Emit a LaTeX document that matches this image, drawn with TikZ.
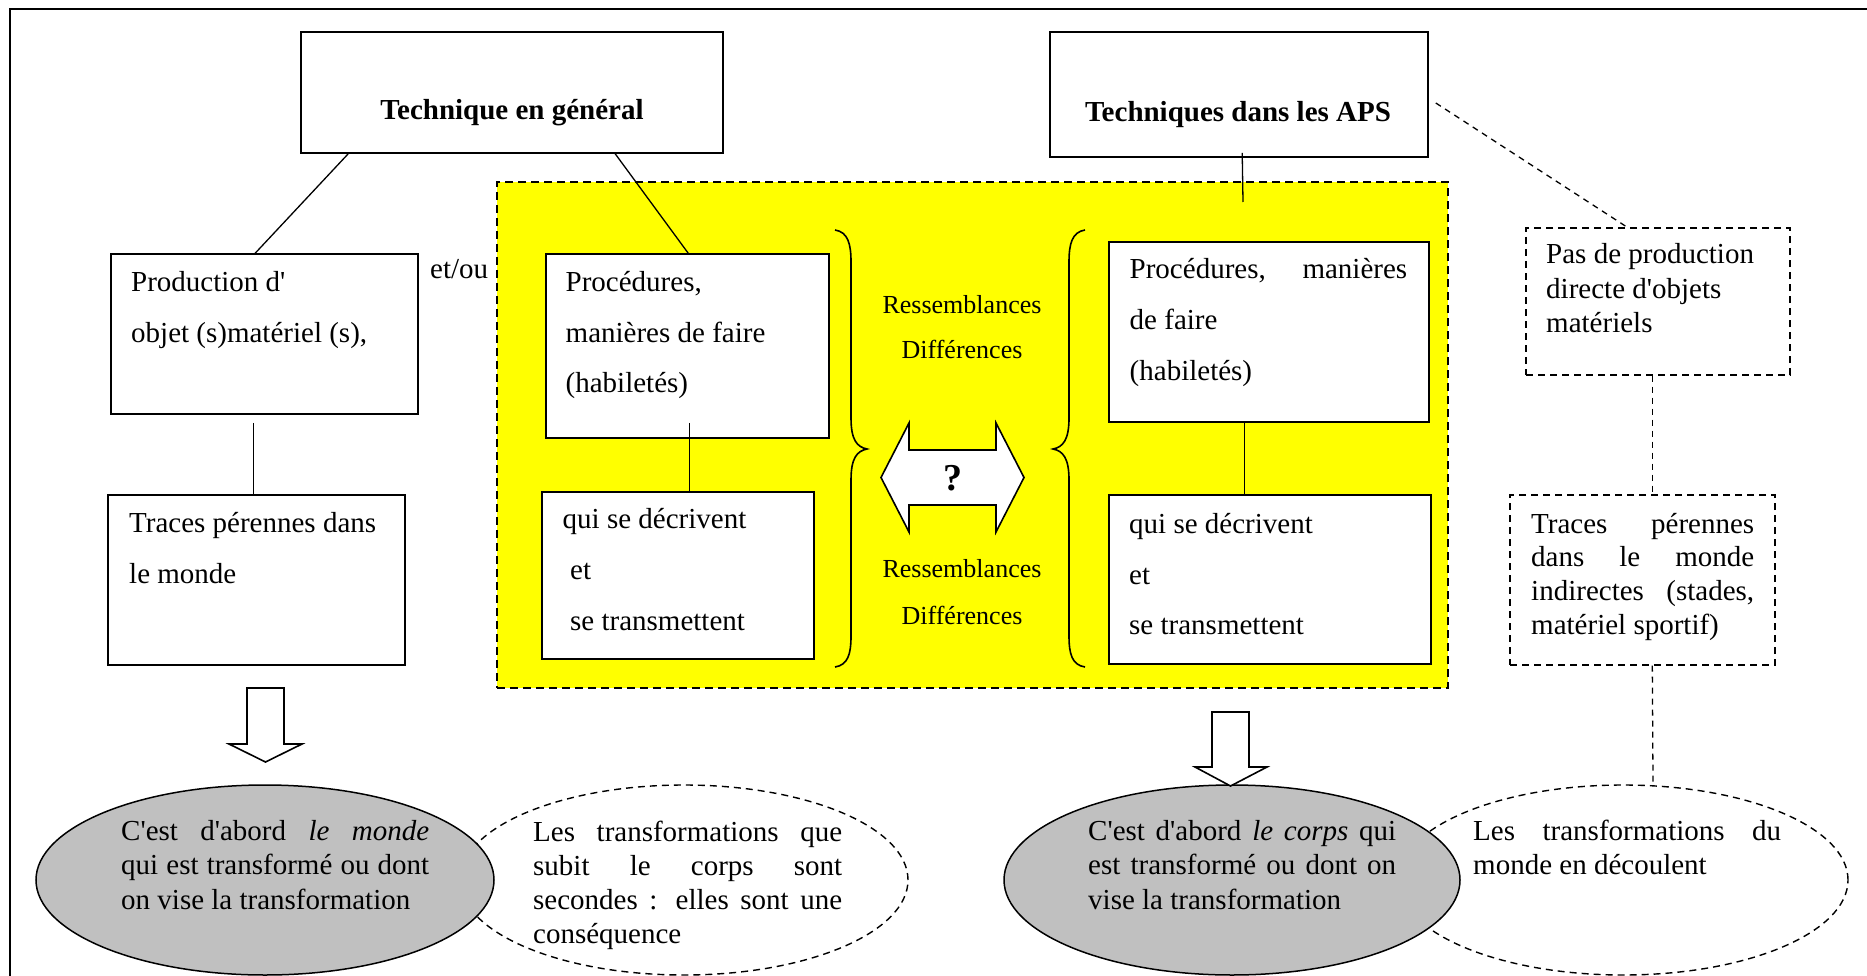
\documentclass[tikz,border=0pt]{standalone}
\usepackage{fontspec}
\setmainfont{Liberation Serif}[Ligatures=TeXOff]
\usetikzlibrary{shapes.geometric}
\definecolor{yel}{RGB}{255,255,0}
\definecolor{ellgray}{RGB}{192,192,192}
\tikzset{
  box/.style={draw, rectangle, line width=1.6pt, fill=white, inner sep=0pt},
  dbox/.style={draw, rectangle, line width=1.4pt, dash pattern=on 7pt off 5pt, fill=white, inner sep=0pt},
  zonebox/.style={draw, rectangle, line width=1.4pt, dash pattern=on 8pt off 5pt, fill=yel, inner sep=0pt},
  grayell/.style={draw, ellipse, line width=1.5pt, fill=ellgray, inner sep=0pt},
  dashell/.style={draw, ellipse, line width=1.4pt, dash pattern=on 7pt off 5pt, fill=white, inner sep=0pt},
  txt/.style={inner sep=0pt, anchor=base west, font=\fontsize{29}{35}\selectfont},
  ctxt/.style={inner sep=0pt, anchor=base, font=\fontsize{26}{31}\selectfont},
  ttl/.style={inner sep=0pt, anchor=base, font=\fontsize{29}{35}\selectfont\bfseries},
  qstyle/.style={inner sep=0pt, anchor=base, font=\fontsize{38}{44}\selectfont\bfseries},
  link/.style={line width=1.3pt},
  dlink/.style={line width=1.3pt, dash pattern=on 6pt off 5pt},
  bracepath/.style={line width=1.6pt},
  blockarrow/.style={draw, line width=1.6pt, fill=white, line join=miter}
}
\begin{document}
\begin{tikzpicture}[x=1pt,y=-1pt]
\useasboundingbox (0,0) rectangle (1867,976);
\clip (0,0) rectangle (1867,976);
\fill[white] (0,0) rectangle (1867,976);
% outer frame
\draw[line width=2pt] (10,9) rectangle (1900,1000);

% yellow zone
\node[zonebox, minimum width=951pt, minimum height=506pt] (zone) at (972.5,435) {};

% boxes
\node[box, minimum width=422pt, minimum height=121pt] (techG) at (512,92.5) {};
\node[box, minimum width=378pt, minimum height=125pt] (aps) at (1239,94.5) {};
\node[box, minimum width=307pt, minimum height=160pt] (prod) at (264.5,334) {};
\node[box, minimum width=283pt, minimum height=184pt] (procL) at (687.5,346) {};
\node[box, minimum width=297pt, minimum height=170pt] (tracesL) at (256.5,580) {};
\node[box, minimum width=272pt, minimum height=167pt] (quiL) at (678,575.5) {};
\node[box, minimum width=320pt, minimum height=180pt] (procR) at (1269,332) {};
\node[box, minimum width=322pt, minimum height=169pt] (quiR) at (1270,579.5) {};
\node[dbox, minimum width=264pt, minimum height=147pt] (pasProd) at (1658,301.5) {};
\node[dbox, minimum width=265pt, minimum height=170pt] (tracesR) at (1642.5,580) {};

% ellipses
\node[dashell, minimum width=448pt, minimum height=190pt] (ellL2) at (684,880) {};
\node[grayell, minimum width=458pt, minimum height=190pt] (ellL1) at (265,880) {};
\node[dashell, minimum width=450pt, minimum height=190pt] (ellR2) at (1623,880) {};
\node[grayell, minimum width=456pt, minimum height=190pt] (ellR1) at (1232,880) {};

% connectors
\coordinate (apsEnd) at (1243,202);
\draw[link] ([xshift=48pt]techG.south west) -- ([xshift=145pt]prod.north west);
\draw[link] ([xshift=315pt]techG.south west) -- ([xshift=143pt]procL.north west);
\draw[link] ([xshift=143pt,yshift=-8pt]prod.south west) -- ([xshift=146pt]tracesL.north west);
\draw[link] ([xshift=144pt,yshift=16pt]procL.south west) -- ([xshift=148pt]quiL.north west);
\draw[link] ([xshift=193pt,yshift=5pt]aps.south west) -- (apsEnd);
\draw[link] ([xshift=136.5pt]procR.south west) -- ([xshift=136.5pt]quiR.north west);
\draw[dlink] ([xshift=7pt,yshift=-8.5pt]aps.east) -- ([xshift=102pt]pasProd.north west);
\draw[dlink] ([xshift=127pt]pasProd.south west) -- ([xshift=143pt]tracesR.north west);
\draw[dlink] ([xshift=143pt]tracesR.south west) -- ([xshift=30pt,yshift=-1pt]ellR2.north);

% braces
\draw[bracepath] (835,230) .. controls (848,232) and (851,244) .. (851,262) -- (851,418)
  .. controls (851,440) and (857,447) .. (867,449) .. controls (857,451) and (851,458) .. (851,480)
  -- (851,636) .. controls (851,654) and (848,665) .. (835,667);
\draw[bracepath] (1085,230) .. controls (1072,232) and (1069,244) .. (1069,262) -- (1069,418)
  .. controls (1069,440) and (1063,447) .. (1053,449) .. controls (1063,451) and (1069,458) .. (1069,480)
  -- (1069,636) .. controls (1069,654) and (1072,665) .. (1085,667);

% double arrow
\draw[blockarrow] (881,477.5) -- (909,423) -- (909,450) -- (996,450) -- (996,423) -- (1024,477.5)
  -- (996,532) -- (996,505) -- (909,505) -- (909,532) -- cycle;
\node[qstyle] (qmark) at (952.5,490) {?};

% down arrows
\draw[blockarrow] (247,688) -- (284,688) -- (284,744) -- (302,744) -- (265.5,762) -- (229,744) -- (247,744) -- cycle;
\draw[blockarrow] (1212,712) -- (1249,712) -- (1249,767) -- (1267,767) -- (1230.5,786) -- (1195,767) -- (1212,767) -- cycle;

% titles
\node[ttl] (tTG) at (512,120) {Technique en général};
\node[ttl] (tAPS) at (1238,121.5) {Techniques dans les APS};

% left column texts
\node[txt] (p1) at (131,291.5) {Production d'};
\node[txt] (p2) at (131,342) {objet (s)matériel (s),};
\node[txt] (etou) at (430,278) {et/ou};
\node[txt] (pl1) at (565.5,291.5) {Procédures,};
\node[txt] (pl2) at (565.5,342) {manières de faire};
\node[txt] (pl3) at (565.5,392.5) {(habiletés)};
\node[txt] (tl1) at (129,532) {Traces pérennes dans};
\node[txt] (tl2) at (129,583) {le monde};
\node[txt] (ql1) at (562.5,528) {qui se décrivent};
\node[txt] (ql2) at (570,579) {et};
\node[txt] (ql3) at (570,630) {se transmettent};

% middle texts
\node[ctxt] (r1) at (962,313) {Ressemblances};
\node[ctxt] (d1) at (962,358.5) {Différences};
\node[ctxt] (r2) at (962,577.5) {Ressemblances};
\node[ctxt] (d2) at (962,624.5) {Différences};

% right column texts
\node[txt] (pr1) at (1129.5,278) {\makebox[277.5pt][s]{Procédures, manières}};
\node[txt] (pr2) at (1129.5,329) {de faire};
\node[txt] (pr3) at (1129.5,380) {(habiletés)};
\node[txt] (qr1) at (1129,533) {qui se décrivent};
\node[txt] (qr2) at (1129,584) {et};
\node[txt] (qr3) at (1129,634) {se transmettent};
\node[txt] (pp1) at (1546,264) {Pas de production};
\node[txt] (pp2) at (1546,298) {directe d'objets};
\node[txt] (pp3) at (1546,332) {matériels};
\node[txt] (tr1) at (1531,533) {\makebox[223pt][s]{Traces pérennes}};
\node[txt] (tr2) at (1531,566.5) {\makebox[223pt][s]{dans le monde}};
\node[txt] (tr3) at (1531,600) {\makebox[223pt][s]{indirectes (stades,}};
\node[txt] (tr4) at (1531,634) {matériel sportif)};

% ellipse texts
\node[txt] (el1) at (121,840) {\makebox[308pt][s]{C'est d'abord \textit{le monde}}};
\node[txt] (el2) at (121,874.5) {\makebox[308pt][s]{qui est transformé ou dont}};
\node[txt] (el3) at (121,909) {on vise la transformation};
\node[txt] (ed1) at (533,841) {\makebox[309pt][s]{Les transformations que}};
\node[txt] (ed2) at (533,875) {\makebox[309pt][s]{subit le corps sont}};
\node[txt] (ed3) at (533,909) {\makebox[309pt][s]{secondes : elles sont une}};
\node[txt] (ed4) at (533,943) {conséquence};
\node[txt] (er1) at (1088,840) {\makebox[308pt][s]{C'est d'abord \textit{le corps} qui}};
\node[txt] (er2) at (1088,874.5) {\makebox[308pt][s]{est transformé ou dont on}};
\node[txt] (er3) at (1088,909) {vise la transformation};
\node[txt] (erd1) at (1473,840) {\makebox[308pt][s]{Les transformations du}};
\node[txt] (erd2) at (1473,874.5) {monde en découlent};
\end{tikzpicture}
\end{document}
